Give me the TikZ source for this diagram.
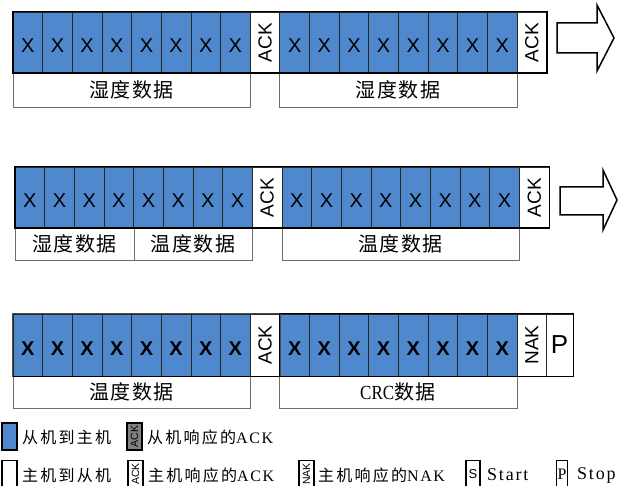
\documentclass[tikz,border=0pt]{standalone}
\usepackage{fontspec}
\usepackage{graphicx}
\setmainfont{Liberation Serif}
\setsansfont{Liberation Sans}
\newfontfamily\cjk{Noto Sans CJK SC}[LetterSpace=8]
\newfontfamily\cjkleg{Noto Sans CJK SC}[LetterSpace=14]
\newfontfamily\serleg{Liberation Serif}[LetterSpace=10]
\definecolor{cblue}{RGB}{79,136,205}
\definecolor{lgray}{RGB}{110,110,110}
\tikzset{
  bit/.style={draw=black!85, line width=0.8pt, fill=cblue, inner sep=0pt, minimum width=29.65pt, minimum height=61pt, text height=21pt, text depth=0pt, font=\sffamily\fontsize{20}{20}\selectfont},
  ackcell/.style={draw=black!85, line width=0.8pt, fill=white, inner sep=0pt, minimum width=29.65pt, minimum height=61pt, font=\sffamily\fontsize{19}{19}\selectfont},
  lbl/.style={draw=lgray, line width=0.9pt, fill=white, inner sep=0pt, font=\cjk\fontsize{20}{20}\selectfont},
  frame/.style={draw=black, line width=1.8pt},
  bigarrow/.style={draw=black, line width=1.5pt, fill=white, line join=miter},
  legbox/.style={draw=black, line width=1.2pt, inner sep=0pt, minimum width=15pt, minimum height=27pt},
  legtxt/.style={anchor=west, inner sep=0pt, font=\fontsize{16}{16}\selectfont},
  legack/.style={legbox, font=\sffamily\fontsize{10.5}{10.5}\selectfont},
}
\newcommand{\rot}[1]{\rotatebox{90}{#1}}
\begin{document}
\begin{tikzpicture}[x=1pt,y=-1pt]
\useasboundingbox (0,0) rectangle (624,486);
% ---------- row 1 ----------
\node[lbl, minimum width=237pt, minimum height=34pt] (l11) at (131.5,90) {湿度数据};
\node[lbl, minimum width=238pt, minimum height=34pt] (l12) at (398,90) {湿度数据};
\foreach \i in {0,...,7} \node[bit] (r1c\i) at ({13+(\i+0.5)*29.65},42.5) {X};
\node[ackcell] (r1c8) at ({13+8.5*29.65},42.5) {\rot{ACK}};
\foreach \i in {9,...,16} \node[bit] (r1c\i) at ({13+(\i+0.5)*29.65},42.5) {X};
\node[ackcell] (r1c17) at ({13+17.5*29.65},42.5) {\rot{ACK}};
\draw[frame] (r1c0.north west) rectangle (r1c17.south east);
\draw[bigarrow] (557,23) -- (597,23) -- (597,5) -- (614,38) -- (597,71) -- (597,53) -- (557,53) -- cycle;
% ---------- row 2 ----------
\node[lbl, minimum width=119pt, minimum height=32pt] (l21) at (74.5,244) {湿度数据};
\node[lbl, minimum width=118pt, minimum height=32pt] (l22) at (193,244) {温度数据};
\node[lbl, minimum width=237pt, minimum height=32pt] (l23) at (400.5,244) {温度数据};
\foreach \i in {0,...,7} \node[bit, minimum width=29.67pt] (r2c\i) at ({15+(\i+0.5)*29.67},197.5) {X};
\node[ackcell, minimum width=29.67pt] (r2c8) at ({15+8.5*29.67},197.5) {\rot{ACK}};
\foreach \i in {9,...,16} \node[bit, minimum width=29.67pt] (r2c\i) at ({15+(\i+0.5)*29.67},197.5) {X};
\node[ackcell, minimum width=29.67pt] (r2c17) at ({15+17.5*29.67},197.5) {\rot{ACK}};
\draw[frame] (r2c0.north west) rectangle (r2c17.south east);
\draw[bigarrow] (560,187) -- (603,187) -- (603,170) -- (617,200) -- (603,230) -- (603,215) -- (560,215) -- cycle;
% ---------- row 3 ----------
\node[lbl, minimum width=237pt, minimum height=32pt] (l31) at (131.5,392) {温度数据};
\node[lbl, minimum width=238pt, minimum height=32pt] (l32) at (398,392) {{\rmfamily\fontsize{20}{20}\selectfont\addfontfeature{FakeStretch=0.85}CRC}数据};
\foreach \i in {0,...,7} \node[bit, minimum height=62pt] (r3c\i) at ({13+(\i+0.5)*29.65},345) {\textbf{X}};
\node[ackcell, minimum height=62pt] (r3c8) at ({13+8.5*29.65},345) {\rot{ACK}};
\foreach \i in {9,...,16} \node[bit, minimum height=62pt] (r3c\i) at ({13+(\i+0.5)*29.65},345) {\textbf{X}};
\node[ackcell, minimum height=62pt] (r3c17) at ({13+17.5*29.65},345) {\rot{NAK}};
\node[ackcell, minimum height=62pt, minimum width=27pt, font=\sffamily\fontsize{26}{26}\selectfont] (r3p) at (559.5,345) {P};
\draw[draw=black!70, line width=1.2pt] (r3c0.north west) rectangle (r3c8.south east);
\draw[frame] (r3c9.north west) rectangle (r3p.south east);
\draw[frame] (r3c0.south west) -- (r3c8.south east);
% ---------- legend ----------
\node[legbox, fill=cblue] (k1) at (9.5,436.5) {};
\node[legtxt] (t1) at (22,437) {\cjkleg 从机到主机};
\node[legack, fill=gray] (k2) at (134.5,436.5) {\rot{ACK}};
\node[legtxt] (t2) at (147,437) {\cjkleg 从机响应的\serleg ACK};
\node[legbox, fill=white] (k3) at (9.5,474) {};
\node[legtxt] (t3) at (22,475) {\cjkleg 主机到从机};
\node[legack, fill=white] (k4) at (135.5,474) {\rot{ACK}};
\node[legtxt] (t4) at (148,475) {\cjkleg 主机响应的\serleg ACK};
\node[legack, fill=white] (k5) at (306.5,474) {\rot{NAK}};
\node[legtxt] (t5) at (318,475) {\cjkleg 主机响应的\serleg NAK};
\node[legbox, fill=white, minimum width=14pt, font=\sffamily\fontsize{13}{13}\selectfont] (k6) at (473,474) {S};
\node[legtxt, font=\fontsize{18}{18}\selectfont] (t6) at (487,475) {\serleg Start};
\node[legbox, fill=white, minimum width=11pt, font=\rmfamily\fontsize{16}{16}\selectfont] (k7) at (562,474) {P};
\node[legtxt, font=\fontsize{18}{18}\selectfont] (t7) at (577,475) {\serleg Stop};
\end{tikzpicture}
\end{document}
